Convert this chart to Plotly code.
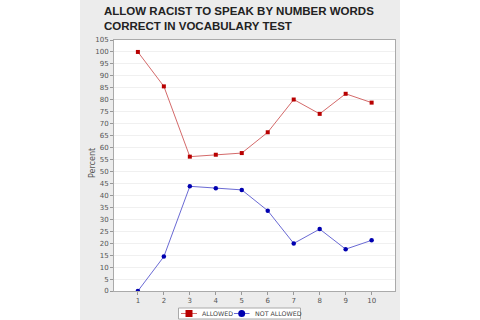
import plotly.graph_objects as go

words_correct = [1, 2, 3, 4, 5, 6, 7, 8, 9, 10]
allowed = [100.0, 85.6, 56.2, 57.0, 57.7, 66.4, 80.1, 74.1, 82.5, 78.8]
not_allowed = [0.0, 14.4, 43.8, 43.0, 42.3, 33.6, 19.9, 25.9, 17.5, 21.2]
y_ticks = list(range(0, 106, 5))
series_names = ["ALLOWED", "NOT ALLOWED"]
line_colors = ["#d46a6a", "#6a6ad4"]
marker_colors = ["#b80000", "#0000b0"]

L, T, PW, PH = 114, 40, 281, 251
def px(x):
    return (x - L) / PW
def py(y):
    return (T + PH - y) / PH

fig = go.Figure()
fig.add_trace(go.Scatter(
    x=words_correct, y=allowed, name=series_names[0], mode="lines+markers",
    line=dict(color=line_colors[0], width=1),
    marker=dict(symbol="square", size=4, color=marker_colors[0]),
))
fig.add_trace(go.Scatter(
    x=words_correct, y=not_allowed, name=series_names[1], mode="lines+markers",
    line=dict(color=line_colors[1], width=1),
    marker=dict(symbol="circle", size=4.5, color=marker_colors[1]),
))

# white margins outside the grey panel
for x0, x1 in [(0, 80), (400, 480)]:
    fig.add_shape(type="rect", xref="paper", yref="paper", layer="below",
                  x0=px(x0), x1=px(x1), y0=py(320), y1=py(0),
                  fillcolor="white", line=dict(width=0))

fig.add_annotation(text="Percent", xref="paper", yref="paper", x=px(92), y=py(163),
                   xanchor="center", yanchor="middle", textangle=-90, showarrow=False,
                   font=dict(family="DejaVu Sans", size=8, color="#555555"))

# compact legend box
fig.add_shape(type="rect", xref="paper", yref="paper", x0=px(178.5), x1=px(300.5),
              y0=py(319), y1=py(308), fillcolor="white", line=dict(color="#aaaaaa", width=1))
legend_items = [(181, 197, 189, 200), (234, 249.5, 241.7, 252.5)]
for i, (lx0, lx1, mx, tx) in enumerate(legend_items):
    ym = 313.5
    fig.add_shape(type="line", xref="paper", yref="paper", x0=px(lx0), x1=px(lx1),
                  y0=py(ym), y1=py(ym), line=dict(color=line_colors[i], width=1))
    if i == 0:
        fig.add_shape(type="rect", xref="paper", yref="paper", x0=px(mx - 3.5), x1=px(mx + 3.5),
                      y0=py(ym + 3.5), y1=py(ym - 3.5), fillcolor=marker_colors[i], line=dict(width=0))
    else:
        fig.add_shape(type="circle", xref="paper", yref="paper", x0=px(mx - 3.5), x1=px(mx + 3.5),
                      y0=py(ym + 3.5), y1=py(ym - 3.5), fillcolor=marker_colors[i], line=dict(width=0))
    fig.add_annotation(text=series_names[i], xref="paper", yref="paper", x=px(tx), y=py(ym),
                       xanchor="left", yanchor="middle", showarrow=False,
                       font=dict(family="DejaVu Sans", size=6.3, color="#444444"))

fig.update_layout(
    width=480, height=320,
    margin=dict(l=L, r=480 - L - PW, t=T, b=320 - T - PH, autoexpand=False),
    paper_bgcolor="#ececec", plot_bgcolor="white",
    showlegend=False,
    title=dict(text="ALLOW RACIST TO SPEAK BY NUMBER WORDS<br>CORRECT IN VOCABULARY TEST",
               x=104/480, xanchor="left", y=1-15/320, yanchor="middle",
               font=dict(family="Liberation Sans", size=11.5, color="#222222", weight="bold")),
    xaxis=dict(range=[0.08, 10.9], tickvals=words_correct, showgrid=False, zeroline=False,
               showline=True, linecolor="#aaaaaa", mirror=True, ticks="outside", ticklen=3,
               tickcolor="#999999", tickfont=dict(family="DejaVu Sans", size=7, color="#555555")),
    yaxis=dict(range=[0, 105], tickvals=y_ticks, showgrid=True, gridcolor="#f0f0f0", zeroline=False,
               showline=True, linecolor="#aaaaaa", mirror=True, ticks="outside", ticklen=3,
               tickcolor="#999999", tickfont=dict(family="DejaVu Sans", size=7, color="#555555")),
)

fig.write_html("out.html")
